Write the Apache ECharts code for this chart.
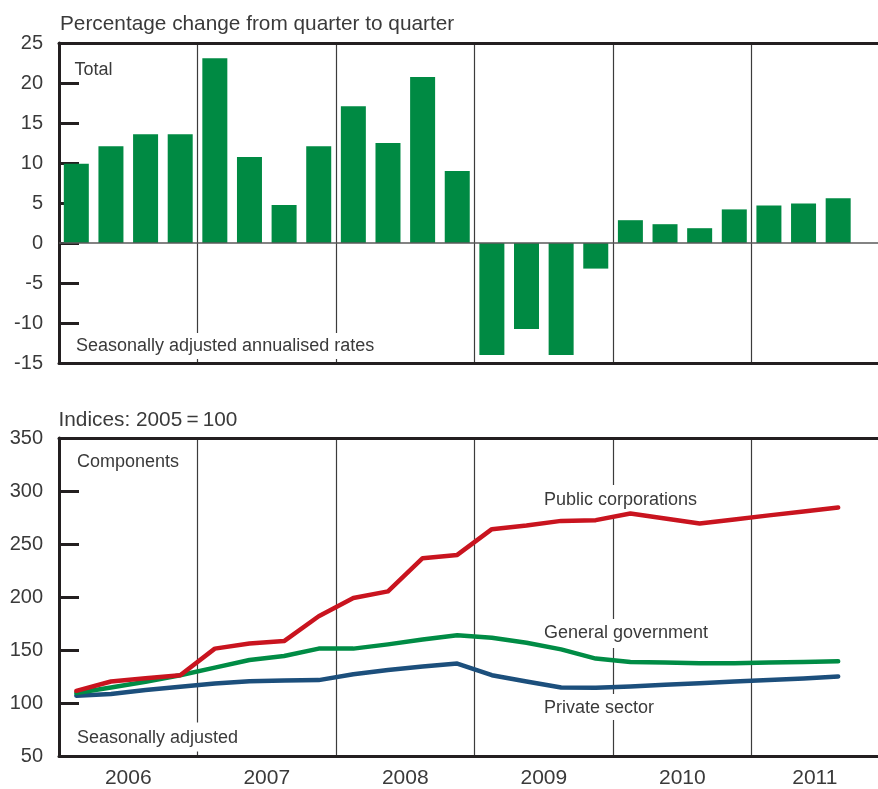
<!DOCTYPE html>
<html>
<head>
<meta charset="utf-8">
<script src="https://cdn.jsdelivr.net/npm/echarts@6/dist/echarts.min.js"></script>
<style>
html,body{margin:0;padding:0;background:#fff;}
#chart{width:878px;height:789px;}
</style>
</head>
<body>
<div id="chart"></div>
<script>
// ---- data ----
const quarters = [
  '2006 Q1','2006 Q2','2006 Q3','2006 Q4',
  '2007 Q1','2007 Q2','2007 Q3','2007 Q4',
  '2008 Q1','2008 Q2','2008 Q3','2008 Q4',
  '2009 Q1','2009 Q2','2009 Q3','2009 Q4',
  '2010 Q1','2010 Q2','2010 Q3','2010 Q4',
  '2011 Q1','2011 Q2','2011 Q3'
];
const years = ['2006','2007','2008','2009','2010','2011'];
// Total, percentage change quarter on quarter (annualised)
const totalGrowth = [9.9, 12.1, 13.6, 13.6, 23.1, 10.75, 4.75, 12.1, 17.1, 12.5, 20.75, 9.0,
  -14.0, -10.75, -14.0, -3.2, 2.85, 2.35, 1.85, 4.2, 4.7, 4.95, 5.6];
// Indices 2005 = 100
const publicCorporations = [111.5, 120.3, 123.4, 126.2, 151.3, 156.2, 158.4, 181.8, 199.1, 205.3, 236.6, 239.7,
  264.0, 267.5, 271.8, 272.5, 278.8, 274.1, 269.4, 273.2, 277.0, 280.6, 284.4];
const generalGovernment = [109.4, 114.7, 120.0, 126.2, 133.4, 140.6, 144.4, 151.3, 151.3, 155.3, 160.0, 164.0,
  161.6, 156.9, 150.6, 141.9, 138.7, 138.1, 137.5, 137.5, 138.1, 138.7, 139.4];
const privateSector = [106.9, 108.4, 112.2, 115.3, 118.5, 120.6, 121.3, 121.6, 127.2, 131.2, 134.4, 137.2,
  126.2, 120.3, 114.7, 114.4, 115.6, 117.2, 118.7, 120.3, 121.6, 123.1, 125.0];
const topAxisTicks = { min: -15, max: 25, step: 5 };
const bottomAxisTicks = { min: 50, max: 350, step: 50 };

// ---- styling ----
const FONT = '"Liberation Sans", Arial, sans-serif';
const TXT = '#3a3a3a';
const AX = '#231f20';
const DIV = '#3c3c3c';
const X_MAX = 23.65;           // visible quarter span of the time axis
const QPY = 4;                 // quarters per year

const pos = (arr) => arr.map((v, i) => [i + 0.5, v]);
const yearPos = years.map((y, i) => i < years.length - 1 ? i * QPY + QPY / 2 : (i * QPY + X_MAX) / 2);

function xBottom(grid, withLabels) {
  return {
    gridIndex: grid, type: 'value', min: 0, max: X_MAX, interval: QPY, position: 'bottom',
    axisLine: { onZero: false, lineStyle: { color: AX, width: 3 } },
    axisTick: { show: false },
    axisLabel: withLabels ? {
      show: true, customValues: yearPos, margin: 12,
      fontSize: 21, color: TXT, fontFamily: FONT,
      formatter: (v) => years[Math.floor(v / QPY)]
    } : { show: false },
    splitLine: { show: true, showMinLine: false, showMaxLine: false, lineStyle: { color: DIV, width: 1.2 } }
  };
}
function xTop(grid) {
  return {
    gridIndex: grid, type: 'value', min: 0, max: X_MAX, position: 'top',
    axisLine: { onZero: false, lineStyle: { color: AX, width: 3 } },
    axisTick: { show: false }, axisLabel: { show: false }, splitLine: { show: false }
  };
}
function yAx(grid, t) {
  return {
    gridIndex: grid, type: 'value', min: t.min, max: t.max, interval: t.step,
    axisLine: { show: true, onZero: false, lineStyle: { color: AX, width: 3 } },
    axisTick: { show: true, inside: true, length: 20, lineStyle: { color: AX, width: 3 } },
    axisLabel: { fontSize: 20, color: TXT, fontFamily: FONT, margin: 16 },
    splitLine: { show: false }
  };
}
function note(text, left, top, size, pad) {
  return {
    text: text, left: left, top: top, padding: pad || 0, z: 1,
    backgroundColor: pad ? '#fff' : 'transparent',
    textStyle: { fontSize: size, lineHeight: size, fontWeight: 'normal', color: TXT, fontFamily: FONT }
  };
}
function lineSeries(name, data, color) {
  return {
    name: name, type: 'line', xAxisIndex: 2, yAxisIndex: 1, data: pos(data),
    symbol: 'none', showSymbol: false, z: 3,
    lineStyle: { color: color, width: 4.5, cap: 'round', join: 'round' }
  };
}

const chart = echarts.init(document.getElementById('chart'), null, { renderer: 'canvas' });
chart.setOption({
  animation: false,
  backgroundColor: '#fff',
  title: [
    note('Percentage change from quarter to quarter', 60, 14, 20.8),
    note('Total', 74.5, 61, 18),
    note('Seasonally adjusted annualised rates', 73, 333, 18, [4, 3, 4, 3]),
    note('Indices: 2005\u2009=\u2009100', 58.5, 409.5, 20.8),
    note('Components', 77, 453, 18),
    note('Seasonally adjusted', 74, 722.5, 18, [7, 3, 4, 3]),
    note('Public corporations', 541, 485, 18, [6, 3, 6, 3]),
    note('General government', 541, 619, 18, [5, 3, 6, 3]),
    note('Private sector', 541, 694, 18, [5, 3, 3, 3])
  ],
  grid: [
    { left: 59, right: 0, top: 43, height: 320 },
    { left: 59, right: 0, top: 438, height: 319 }
  ],
  xAxis: [xBottom(0, false), xTop(0), xBottom(1, true), xTop(1)],
  yAxis: [yAx(0, topAxisTicks), yAx(1, bottomAxisTicks)],
  series: [
    {
      name: 'Total', type: 'bar', xAxisIndex: 0, yAxisIndex: 0, data: pos(totalGrowth),
      barWidth: 25, itemStyle: { color: '#008a43' }, z: 3,
      markLine: {
        silent: true, symbol: ['none', 'none'], label: { show: false },
        lineStyle: { color: '#5a5a5a', width: 1.5, type: 'solid' },
        data: [{ yAxis: 0 }]
      }
    },
    lineSeries('Private sector', privateSector, '#1c4f7c'),
    lineSeries('General government', generalGovernment, '#008c45'),
    lineSeries('Public corporations', publicCorporations, '#c9141f')
  ]
});
</script>
</body>
</html>
